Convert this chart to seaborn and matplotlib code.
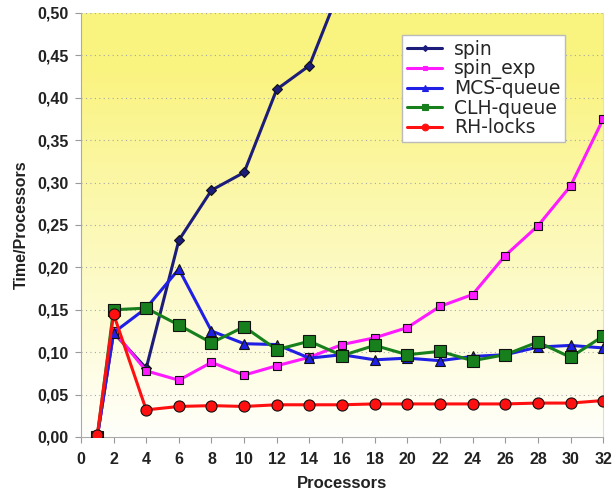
import numpy as np
import pandas as pd
import matplotlib
matplotlib.use("Agg")
import matplotlib.pyplot as plt
from matplotlib.ticker import FuncFormatter, MultipleLocator
import seaborn as sns

# ---- data ----
procs = [1, 2, 4, 6, 8, 10, 12, 14, 16, 18, 20, 22, 24, 26, 28, 30, 32]
spin_x = [1, 2, 4, 6, 8, 10, 12, 14, 16]
spin = [0.000, 0.123, 0.081, 0.232, 0.291, 0.312, 0.410, 0.438, 0.535]
spin_exp = [0.000, 0.125, 0.078, 0.067, 0.088, 0.073, 0.084, 0.094, 0.109,
            0.117, 0.129, 0.154, 0.168, 0.214, 0.249, 0.296, 0.375]
mcs_queue = [0.000, 0.123, 0.152, 0.198, 0.125, 0.110, 0.109, 0.093, 0.097,
             0.091, 0.093, 0.090, 0.095, 0.097, 0.106, 0.108, 0.105]
clh_queue = [0.000, 0.150, 0.152, 0.132, 0.111, 0.130, 0.103, 0.113, 0.096,
             0.108, 0.097, 0.101, 0.090, 0.097, 0.112, 0.094, 0.119]
rh_locks = [0.002, 0.145, 0.032, 0.036, 0.037, 0.036, 0.038, 0.038, 0.038,
            0.039, 0.039, 0.039, 0.039, 0.039, 0.040, 0.040, 0.043]
series_names = ["spin", "spin_exp", "MCS-queue", "CLH-queue", "RH-locks"]
x_ticks = list(range(0, 33, 2))

frames = [pd.DataFrame({"Processors": spin_x, "value": spin, "lock": "spin"})]
for name, vals in zip(series_names[1:], [spin_exp, mcs_queue, clh_queue, rh_locks]):
    frames.append(pd.DataFrame({"Processors": procs, "value": vals, "lock": name}))
df = pd.concat(frames, ignore_index=True)

palette = {"spin": "#1c1c7a", "spin_exp": "#ff1aff", "MCS-queue": "#1f1fe6",
           "CLH-queue": "#17801d", "RH-locks": "#ff1010"}
markers = {"spin": "D", "spin_exp": "s", "MCS-queue": "^", "CLH-queue": "s", "RH-locks": "o"}
msizes = {"spin": 5, "spin_exp": 6, "MCS-queue": 7, "CLH-queue": 8, "RH-locks": 8}

sns.set_style("white")
plt.rcParams["font.family"] = ["Liberation Sans", "DejaVu Sans"]

fig = plt.figure(figsize=(6.13, 4.94), dpi=100)
ax = fig.add_axes([0.132, 0.1154, 0.852, 0.8583])

# gradient background
grad = np.linspace(0, 1, 256).reshape(-1, 1)
top = np.array([0.98, 0.955, 0.50])
bot = np.array([1.0, 1.0, 0.985])
t = np.clip(grad * 1.15, 0, 1)
img = bot[None, None, :] * (1 - t[..., None]) + top[None, None, :] * t[..., None]
img = img.reshape(256, 1, 3)
ax.imshow(img, extent=[0, 1, 0, 1], transform=ax.transAxes, aspect="auto",
          origin="lower", zorder=0)

for y in np.arange(0.05, 0.501, 0.05):
    ax.axhline(y, color="#a8a8a8", lw=0.8, ls=(0, (1, 3)), zorder=1)

for name in series_names:
    sub = df[df["lock"] == name]
    sns.lineplot(data=sub, x="Processors", y="value", ax=ax, color=palette[name],
                 marker=markers[name], markersize=msizes[name], lw=2.2,
                 markeredgecolor="#111111", markeredgewidth=0.8, label=name,
                 zorder=3, estimator=None)

ax.set_xlim(0, 32)
ax.set_ylim(0, 0.5)
ax.set_xticks(x_ticks)
ax.yaxis.set_major_locator(MultipleLocator(0.05))
ax.yaxis.set_major_formatter(FuncFormatter(lambda v, p: f"{v:.2f}".replace(".", ",")))
ax.tick_params(axis="both", labelsize=11.5, length=4, color="#999999", direction="out",
               bottom=True, left=True)
ax.tick_params(axis="x", pad=7)
ax.tick_params(axis="y", pad=5)
for lab in ax.get_xticklabels() + ax.get_yticklabels():
    lab.set_fontweight("bold")
    lab.set_color("#222222")
ax.set_xlabel("Processors", fontsize=12, fontweight="bold", color="#222222", labelpad=6)
ax.set_ylabel("Time/Processors", fontsize=11.5, fontweight="bold", color="#222222", labelpad=6)
for s in ["top"]:
    ax.spines[s].set_visible(False)
ax.spines["right"].set_color("#dddddd")
ax.spines["left"].set_color("#aaaaaa")
ax.spines["bottom"].set_color("#aaaaaa")

leg = ax.legend(loc="upper left", bbox_to_anchor=(0.615, 0.948),
                prop={"family": "DejaVu Sans", "size": 13.5},
                frameon=True, fancybox=False, handlelength=1.9, handletextpad=0.6,
                labelspacing=0.02, borderpad=0.25, borderaxespad=0, markerscale=0.6)
leg.get_frame().set_edgecolor("#bbbbbb")
leg.get_frame().set_facecolor("white")
leg.get_frame().set_alpha(1.0)
for h in leg.legend_handles:
    h.set_markeredgecolor(h.get_color())

fig.savefig("out.png", dpi=100)
